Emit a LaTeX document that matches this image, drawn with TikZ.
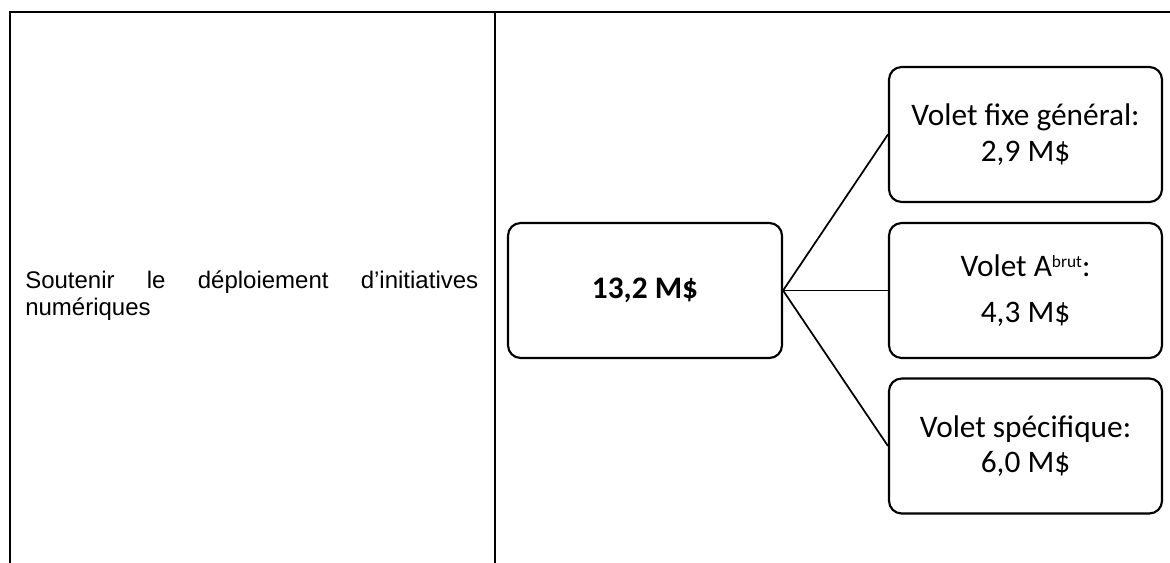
\documentclass[tikz,border=0pt]{standalone}
\usepackage{fontspec}
\setmainfont{Liberation Sans}
\newfontfamily\calibri{Carlito}
\usetikzlibrary{calc}

\begin{document}
\begin{tikzpicture}[x=0.75pt,y=-0.75pt,
    grid/.style={line width=1.9pt},
    volet/.style={draw,line width=1.6pt,rounded corners=9.5pt,inner sep=0pt,
      minimum width=204.75pt,minimum height=101.25pt,align=center,
      font=\calibri\fontsize{23.5}{26.5}\selectfont},
    lien/.style={line width=1.3pt}]
  \useasboundingbox (0,0) rectangle (1170,563);

  % table
  \draw[grid] (10,563) -- (10,12) -- (1170,12);
  \draw[grid] (495,12) -- (495,563);

  \node[anchor=base west,inner sep=0pt,text width=339.75pt,align=justify,
    font=\fontsize{18}{20.7}\selectfont] (objectif) at (25,288)
    {\spaceskip=.28em plus 6em\hyphenpenalty=10000\tolerance=10000
     Soutenir le déploiement d’initiatives numériques};

  % boxes
  \node[volet,minimum width=205.5pt] (total) at (645,290.5) {\bfseries 13,2 M\$};
  \node[volet] (fixe) at (1025.5,134.5) {Volet fixe général:\\2,9 M\$};
  \node[volet] (brut) at (1025.5,290.5)
    {Volet A\raisebox{6.5pt}{\fontsize{13}{13}\selectfont brut}:\\[8pt]4,3 M\$};
  \node[volet] (specifique) at (1025.5,446) {Volet spécifique:\\6,0 M\$};

  \draw[lien] (total.east) -- (fixe.west);
  \draw[lien] (total.east) -- (brut.west);
  \draw[lien] (total.east) -- (specifique.west);
\end{tikzpicture}
\end{document}
